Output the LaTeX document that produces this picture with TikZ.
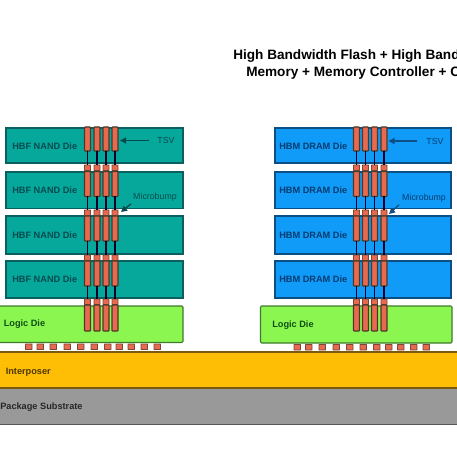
\documentclass[tikz,border=0pt]{standalone}
\usepackage{fontspec}
\setmainfont{Liberation Sans}
\usetikzlibrary{arrows.meta}
\definecolor{teald}{HTML}{06A89C}
\definecolor{tealb}{HTML}{0C5F5F}
\definecolor{tealt}{HTML}{064B4E}
\definecolor{blued}{HTML}{0F9BF7}
\definecolor{blueb}{HTML}{0B4F84}
\definecolor{bluet}{HTML}{073C70}
\definecolor{logicg}{HTML}{8CF651}
\definecolor{logicb}{HTML}{3F7A2A}
\definecolor{logict}{HTML}{0E4F12}
\definecolor{interp}{HTML}{FDBE05}
\definecolor{interb}{HTML}{7A5A10}
\definecolor{intert}{HTML}{4E3604}
\definecolor{subst}{HTML}{999999}
\definecolor{subsb}{HTML}{555555}
\definecolor{tsvc}{HTML}{E8694F}
\definecolor{tsvb}{HTML}{4A3A28}
\tikzset{
  x=0.75pt,y=-0.75pt,
  flat/.style={draw,line width=0.8pt,inner sep=0pt,outer sep=0pt,rectangle},
  nanddie/.style={flat,fill=teald,draw=tealb},
  dramdie/.style={flat,fill=blued,draw=blueb},
  logicdie/.style={flat,fill=logicg,draw=logicb,rounded corners=0.8pt},
  interposer/.style={flat,fill=interp,draw=interb},
  substrate/.style={flat,fill=subst,draw=subsb},
  tsvbar/.style={flat,fill=tsvc,draw=tsvb,rounded corners=0.5pt},
  ubump/.style={flat,fill=tsvc,draw=tsvb!70!tsvc,rounded corners=0.3pt,line width=0.7pt},
  wire/.style={line width=1pt,draw=black!85!blue},
  lab/.style={font=\fontsize{6.9}{8}\selectfont\bfseries,inner sep=0pt,anchor=west},
  small/.style={font=\fontsize{6.6}{8}\selectfont,inner sep=0pt},
  callout/.style={line width=1pt,-{Triangle[length=4.5pt,width=4.5pt]}},
  headline/.style={font=\fontsize{10.2}{12}\selectfont\bfseries,inner sep=0pt,anchor=west,text=black},
}
% \rect{name}{style}{x1}{y1}{x2}{y2}
\newcommand{\rect}[6]{%
  \pgfmathsetmacro{\rw}{(#5-#3)*0.75}%
  \pgfmathsetmacro{\rh}{(#6-#4)*0.75}%
  \node[#2,minimum width=\rw pt,minimum height=\rh pt] (#1) at ({(#3+#5)/2},{(#4+#6)/2}) {};}
\begin{document}
\begin{tikzpicture}
\useasboundingbox (0,0) rectangle (457,456);
\clip (0,0) rectangle (457,456);
% base layers
\rect{sub}{substrate}{-6}{388}{463}{424.5}
\rect{inter}{interposer}{-6}{352}{463}{388}
\node[lab,text=black!85] (subl) at (0,407) {Package Substrate};
\node[lab,text=intert] (interl) at (5.5,372) {Interposer};
% logic dies
\rect{logicL}{logicdie}{-4}{306}{183}{342.5}
\rect{logicR}{logicdie}{260.5}{306}{452}{343}
\node[lab,text=logict] at (3.5,324.5) {Logic Die};
\node[lab,text=logict] at (272,325) {Logic Die};
% dies
\foreach \n/\a/\b/\ty in {1/128/163/146,2/172/208.5/190.5,3/216/254/235,4/261/298/279}{
  \rect{nand\n}{nanddie}{6}{\a}{183}{\b}
  \rect{dram\n}{dramdie}{275}{\a}{451}{\b}
  \node[lab,text=tealt] at (12,\ty) {HBF NAND Die};
  \node[lab,text=bluet] at (279,\ty) {HBM DRAM Die};
}
% TSV stacks
\foreach \s/\xa/\xb/\xc/\xd in {L/84.5/94/103/112,R/353.5/362.5/371.5/381}{
  \foreach \c/\x in {a/\xa,b/\xb,c/\xc,d/\xd}{
    \foreach \lv/\ta/\tb/\ba/\bb in {1/127/151/165/170.5,2/171.5/196.5/210/215.5,3/216/241/255/260.5,4/261/286/299/304.5}{
      \rect{t\s\c\lv}{tsvbar}{\x}{\ta}{\x+6}{\tb}
      \rect{b\s\c\lv}{ubump}{\x-0.5}{\ba}{\x+6.5}{\bb}
      \draw[wire] (t\s\c\lv.south) -- (b\s\c\lv.north);
    }
    \rect{t\s\c5}{tsvbar}{\x}{305}{\x+6}{331}
  }
}
% bumps on interposer
\foreach \i/\x in {1/25.5,2/37,3/50,4/64,5/77.5,6/91,7/104.5,8/116,9/128,10/141,11/154}{
  \rect{pL\i}{ubump}{\x}{344}{\x+6.5}{349.5}
}
\foreach \i/\x in {1/294,2/305.5,3/319,4/333,5/346.5,6/360,7/373.5,8/385.5,9/397.5,10/410.5,11/423}{
  \rect{pR\i}{ubump}{\x}{344.5}{\x+6.5}{350}
}
% labels and callouts
\node[small,text=tealt] (tsvL) at (166,140.5) {TSV};
\node[small,text=bluet] (tsvR) at (435,141) {TSV};
\node[small,text=tealt] (mbL) at (155,197.5) {Microbump};
\node[small,text=bluet] (mbR) at (424,198.5) {Microbump};
\coordinate (tsvLtip) at (120,140.5);
\coordinate (tsvRtip) at (388.5,141);
\coordinate (mbLtip) at (121,212);
\coordinate (mbRtip) at (389,214);
\draw[callout,draw=tealt,fill=tealt] (tsvL.west) ++(-8,0) -- (tsvLtip);
\draw[callout,draw=blueb,fill=blueb] (tsvR.west) ++(-9,0) -- (tsvRtip);
\draw[callout,draw=tealt,fill=tealt] (mbL.south west) ++(-2,2) -- (mbLtip);
\draw[callout,draw=blueb,fill=blueb] (mbR.south west) ++(-3,2) -- (mbRtip);
% title
\node[headline] (h1) at (233,56) {High Bandwidth Flash + High Band};
\node[headline] (h2) at (246,72.5) {Memory + Memory Controller + C};
\end{tikzpicture}
\end{document}
